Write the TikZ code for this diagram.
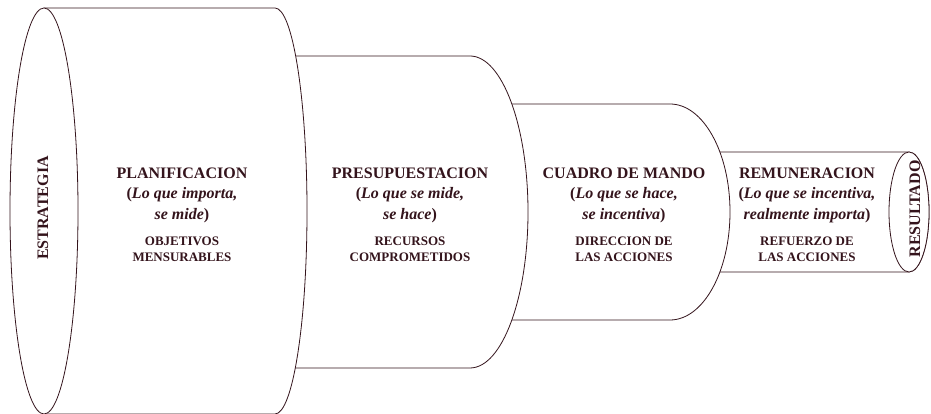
\documentclass[tikz,border=0pt]{standalone}
\usepackage{fontspec}
\setmainfont{Liberation Serif}
\usetikzlibrary{positioning}
\definecolor{ink}{RGB}{52,20,28}

\begin{document}
\begin{tikzpicture}[
  x=1pt, y=1pt,
  node distance=10pt,
  tube/.style={draw=ink, fill=white, line width=0.8pt},
  title/.style={font=\fontsize{16}{20.5}\selectfont\bfseries, text=ink, align=center, inner sep=2pt},
  sub/.style={font=\fontsize{13}{16}\selectfont\bfseries, text=ink, align=center, inner sep=2pt},
  endcap/.style={font=\fontsize{16}{19}\selectfont\bfseries, text=ink, rotate=90}
]
\useasboundingbox (0,0) rectangle (931,414);
% Remuneracion
\draw[tube] (670,262) -- (909,262) arc[start angle=90, end angle=-90, x radius=20, y radius=60] -- (670,142) -- cycle;
\draw[tube] (909,202) ellipse[x radius=20, y radius=60];
% Cuadro de mando
\draw[tube] (470,310) -- (670,310) arc[start angle=90, end angle=-90, x radius=60, y radius=108] -- (470,94) -- cycle;
% Presupuestacion
\draw[tube] (275,358) -- (470,358) arc[start angle=90, end angle=-90, x radius=58, y radius=156] -- (275,46) -- cycle;
% Planificacion
\draw[tube] (44,406) -- (275,406) arc[start angle=90, end angle=-90, x radius=32, y radius=203] -- (44,0) -- cycle;
\draw[tube] (44,203) ellipse[x radius=34, y radius=203];
% Texts
\node[endcap] (strategy) at (43,206) {ESTRATEGIA};
\node[endcap] (result) at (915,205) {RESULTADO};
\node[title] (plan) at (182,219) {PLANIFICACION\\(\textit{Lo que importa,}\\\textit{se mide})};
\node[sub, below=of plan] (plansub) {OBJETIVOS\\MENSURABLES};
\node[title] (budget) at (410,219) {PRESUPUESTACION\\(\textit{Lo que se mide,}\\\textit{se hace})};
\node[sub, below=of budget] (budgetsub) {RECURSOS\\COMPROMETIDOS};
\node[title] (board) at (624,219) {CUADRO DE MANDO\\(\textit{Lo que se hace,}\\\textit{se incentiva})};
\node[sub, below=of board] (boardsub) {DIRECCION DE\\LAS ACCIONES};
\node[title] (pay) at (807,219) {REMUNERACION\\(\textit{Lo que se incentiva,}\\\textit{realmente importa})};
\node[sub, below=of pay] (paysub) {REFUERZO DE\\LAS ACCIONES};
\end{tikzpicture}
\end{document}
